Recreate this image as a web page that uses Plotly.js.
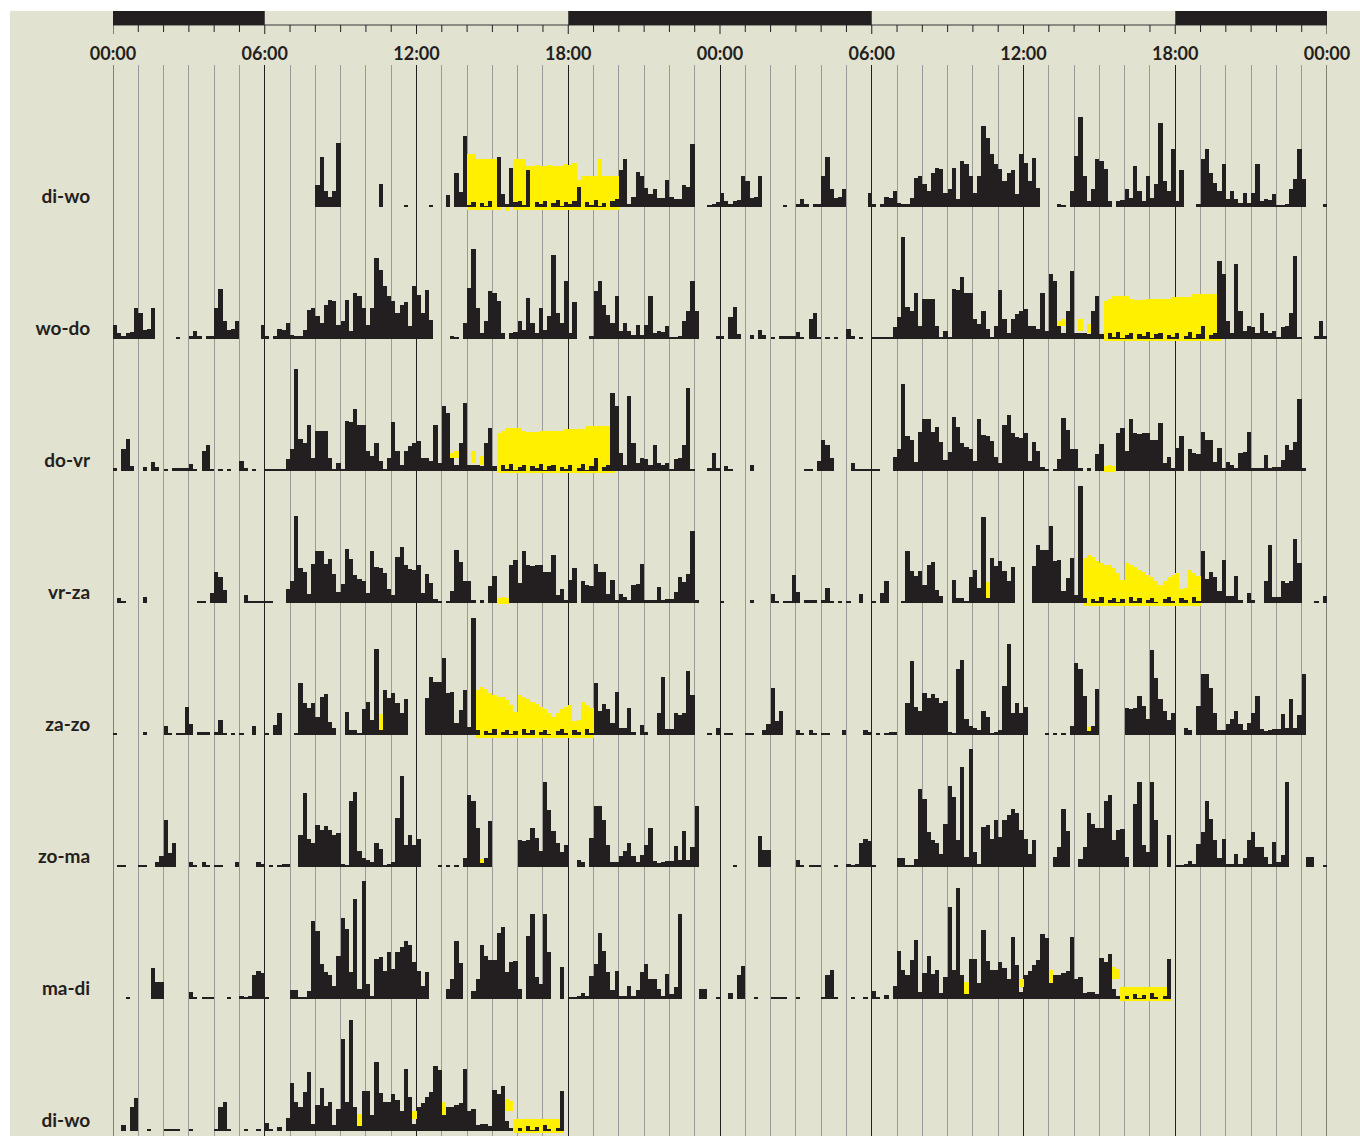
<!DOCTYPE html>
<html><head><meta charset="utf-8">
<script src="https://cdn.plot.ly/plotly-3.0.1.min.js"></script>
<style>html,body{margin:0;padding:0;background:#fff}#chart{width:1360px;height:1136px}</style>
</head><body><div id="chart"></div>
<script>
// ---- data ----
const rowLabels = ['di-wo','wo-do','do-vr','vr-za','za-zo','zo-ma','ma-di','di-wo'];
const hourTickVals = [0,6,12,18,24,30,36,42,48];
const hourTickText = ['00:00','06:00','12:00','18:00','00:00','06:00','12:00','18:00','00:00'];
const darkStart = [0,18,42];
const darkEnd = [6,30,48];

// activity per 10-minute bin (144 bins per day), one group per hour
const day1 = [
0,0,0,0,0,0, 0,0,0,0,0,0, 0,0,0,0,0,0, 0,0,0,0,0,0,
0,0,0,0,0,0, 0,0,0,0,0,0, 0,0,0,0,0,0, 0,0,0,0,0,0,
22,50,16,10,16,64, 0,0,0,0,0,0, 0,0,0,23,0,0, 0,0,0,2,0,0,
0,0,0,2,0,0, 0,12,0,34,15,71, 2,5,0,4,1,6, 0,50,13,3,39,5,
6,2,37,0,5,3, 6,0,4,7,1,5, 3,6,20,0,5,2, 7,1,4,0,6,8,
37,48,3,10,35,31, 19,13,18,9,9,27, 10,8,8,22,20,63, 0,0,0,2,3,5];
const day2 = [
14,6,3,6,7,31, 26,9,10,31,0,0, 0,0,0,2,0,0, 3,8,3,0,3,3,
31,50,18,9,10,18, 0,0,0,0,0,14, 3,0,3,10,9,16, 4,3,3,9,29,31,
23,16,34,39,38,14, 18,39,8,46,43,31, 14,31,81,69,53,43, 38,26,34,37,13,53,
44,26,49,19,0,0, 0,0,3,2,0,16, 51,90,31,6,18,48, 46,38,6,0,6,7,
18,9,41,16,6,31, 9,23,84,26,16,58, 6,37,0,0,0,3, 48,58,34,24,16,43,
8,16,8,4,14,4, 14,43,6,8,7,13, 2,2,3,18,28,58, 28,0,0,0,0,3];
const day3 = [
3,0,22,32,5,0, 0,4,0,9,4,0, 2,0,3,3,3,3, 7,2,0,20,26,2,
0,2,0,2,0,0, 10,3,0,2,0,0, 2,2,2,2,2,12, 22,102,32,28,46,13,
40,40,40,13,2,8, 2,50,49,62,46,46, 20,15,28,10,2,13, 49,20,6,20,25,28,
30,13,13,10,46,8, 65,58,13,6,28,68, 6,6,6,5,28,43, 5,0,6,2,7,1,
4,6,0,5,3,7, 1,5,6,0,4,2, 6,0,3,7,1,5, 13,0,4,6,78,65,
18,6,75,28,8,13, 12,6,26,8,6,8, 2,12,13,26,83,2, 0,0,0,3,18,3];
const day4 = [
0,5,2,0,0,0, 0,6,0,0,0,0, 0,0,0,0,0,0, 0,0,2,2,0,10,
31,26,13,0,0,0, 0,8,2,2,2,2, 2,2,0,0,0,14, 22,87,35,31,9,39,
52,52,39,44,29,11, 19,54,44,28,24,22, 10,52,36,35,30,14, 8,46,56,38,34,33,
38,10,29,20,4,2, 0,2,12,53,41,22, 22,3,0,3,0,17, 27,0,0,0,38,43,
20,52,38,37,38,38, 31,31,48,8,14,3, 23,35,0,22,18,17, 39,31,31,9,23,3,
9,6,3,18,19,39, 3,3,3,16,3,4, 4,11,26,21,29,72, 3,0,0,0,0,0];
const day5 = [
2,0,0,0,0,0, 0,3,0,0,0,0, 9,2,0,2,2,28, 11,0,3,3,3,0,
3,15,2,0,2,0, 2,0,0,9,0,0, 2,0,10,22,0,0, 0,2,52,32,27,32,
18,38,41,13,7,0, 0,23,5,5,2,26, 33,15,86,5,45,37, 42,32,22,36,0,0,
0,0,37,58,53,53, 77,42,43,12,25,45, 8,117,5,0,4,2, 6,0,3,5,1,4,
0,6,2,5,0,3, 5,1,0,4,6,2, 0,5,3,0,6,2, 52,24,31,26,12,43,
7,7,27,3,0,10, 3,0,0,22,58,6, 6,22,20,22,64,40, 0,0,0,2,0,7];
const day6 = [
0,2,2,0,0,0, 2,2,0,0,5,11, 47,14,24,0,0,0, 5,2,0,5,2,0,
2,2,0,0,0,5, 0,0,0,0,5,3, 0,2,0,2,3,3, 0,0,32,74,28,24,
42,37,41,37,32,34, 3,2,66,75,16,9, 7,5,24,18,2,3, 5,49,91,22,32,22,
28,0,0,0,0,2, 0,2,0,2,0,9, 72,66,39,4,9,46, 0,0,0,0,0,0,
27,26,27,39,29,16, 85,57,36,24,15,22, 0,0,7,5,0,29, 61,61,47,22,5,5,
11,16,24,11,5,12, 22,39,6,4,5,6, 6,21,7,36,7,20, 61,0,0,0,0,0];
const day7 = [
0,0,0,2,0,0, 0,0,0,31,17,17, 0,0,0,0,0,0, 7,2,0,2,2,2,
0,0,0,2,0,0, 3,2,3,24,28,26, 2,0,0,0,0,0, 9,9,2,2,8,78,
68,35,27,24,13,43, 81,70,27,100,10,118, 15,3,40,42,28,47, 30,47,52,58,54,37,
28,13,27,0,0,0, 0,10,20,58,36,0, 0,8,20,54,43,39, 39,66,72,27,37,38,
10,0,63,85,22,15, 85,47,0,0,32,0, 2,2,3,6,3,23, 35,66,48,27,9,28,
3,3,13,3,9,27, 35,20,20,10,3,25, 5,12,85,0,0,0, 0,10,10,0,0,2];
const day8 = [
0,0,6,0,24,33, 0,0,2,0,0,0, 2,2,2,2,0,0, 2,0,0,0,0,0,
2,24,29,2,0,0, 0,2,0,0,2,0, 8,2,0,4,0,13, 48,29,24,39,59,7,
26,43,25,29,6,22, 92,29,111,24,5,40, 40,16,69,38,29,29, 37,31,20,62,34,7,
24,28,34,39,65,61, 16,24,24,26,28,62, 20,22,6,7,7,5, 41,37,45,10,3,0,
3,0,5,1,4,0, 6,2,0,3,40,0, 0,0,0,0,0,0, 0,0,0,0,0,0,
0,0,0,0,0,0, 0,0,0,0,0,0, 0,0,0,0,0,0, 0,0,0,0,0,0];

// yellow episodes: [first bin, bottom offset, heights per bin]
const yellow1 = [[84,-3,[56,56,51,51,51,51,51,51]], [93,-4,[4]],
  [95,-3,[51,51,51,44,44,45,44,44,45,44,44,44,46,45,47,30,34,34,34,34,51,34,34,34,34]]];
const yellow2 = [];
const yellow3 = [[67,5,[5]], [69,3,[8]], [80,11,[7]], [81,13,[7]], [85,8,[12]], [87,6,[9]],
  [91,-2,[40,42,45,45,45,45,42,41,41,41,42,42,42,42,42,42,44,44,44,44,44,47,47,47,47,47,47,47]]];
const yellow4 = [[91,-1,[6,7,6]]];
const yellow5 = [[63,4,[17]],
  [86,-3,[48,51,49,45,43,41,41,38,33,26,43,41,39,36,34,31,29,25,21,25,29,31,33,17,18,36,33,30]]];
const yellow6 = [[87,0,[8]]];
const yellow7 = [];
const yellow8 = [[58,4,[13]], [71,12,[8]], [78,15,[14]], [93,20,[12,10]],
  [95,-2,[14,14,14,14,14,14,14,14,14,14,14,14]]];

// ---- build ----
const days = [day1,day2,day3,day4,day5,day6,day7,day8];
const yellows = [yellow1,yellow2,yellow3,yellow4,yellow5,yellow6,yellow7,yellow8];
const BIN = 1/6;
const TOP_BASE = 929, ROW_STEP = 132;
const rowBase = r => TOP_BASE - ROW_STEP*r;
const INK = '#231f20', YEL = '#fff000', BEIGE = '#e2e2d0', GRID = '#9a9a96';

const yTraces = [], bTraces = [];
for (let r = 0; r < rowLabels.length; r++) {
  const bx=[], by=[], bb=[], yx=[], yy=[], yb=[];
  for (let h = 0; h < 2; h++) {
    const d = r + h;
    if (d >= days.length) continue;
    days[d].forEach((v,k) => { bx.push(24*h + (k+0.5)*BIN); by.push(v); bb.push(rowBase(r)); });
    yellows[d].forEach(seg => {
      const [start, off, vals] = seg;
      vals.forEach((v,j) => { yx.push(24*h + (start+j+0.5)*BIN); yy.push(v); yb.push(rowBase(r)+off); });
    });
  }
  yTraces.push({type:'bar', x:yx, y:yy, base:yb, width:BIN, marker:{color:YEL, line:{width:0}}, hoverinfo:'skip', showlegend:false});
  bTraces.push({type:'bar', x:bx, y:by, base:bb, width:BIN, marker:{color:INK, line:{width:0}}, hoverinfo:'skip', showlegend:false});
}

const W = 1360, H = 1136, ML = 113, MR = 33, MT = 11, MB = 0;
const plotW = W-ML-MR, plotH = H-MT-MB;
const pyPaper = px => 1 - (px-MT)/plotH;   // pixel row -> paper fraction
const headerLineY = pyPaper(25);
const gridTop = pyPaper(65);

const shapes = [{type:'rect', xref:'paper', yref:'paper', x0:(10-ML)/plotW, x1:(W-ML)/plotW, y0:-0.01, y1:1,
  fillcolor:BEIGE, line:{width:0}, layer:'below'}];
// header: base line, hourly ticks, dark periods
shapes.push({type:'line', xref:'x', yref:'paper', x0:0, x1:48, y0:headerLineY, y1:headerLineY, line:{color:'#8c8c84', width:2}, layer:'above'});
for (let h = 0; h <= 48; h++) {
  shapes.push({type:'line', xref:'x', yref:'paper', x0:h, x1:h, y0:headerLineY, y1:pyPaper(h%6===0?34:32),
    line:{color:INK, width:1}, layer:'above'});
}
darkStart.forEach((s,i) => shapes.push({type:'rect', xref:'x', yref:'paper', x0:s, x1:darkEnd[i], y0:headerLineY, y1:1,
  fillcolor:INK, line:{width:0}, layer:'above'}));
// outer day-boundary lines
[0,48].forEach(h => shapes.push({type:'line', xref:'x', yref:'paper', x0:h, x1:h, y0:0, y1:gridTop,
  line:{color:INK, width:1}, layer:'below'}));

const fontLab = {family:'Lato, "Open Sans", sans-serif', size:18, color:INK, weight:700};

const layout = {
  width:W, height:H, margin:{l:ML, r:MR, t:MT, b:MB},
  paper_bgcolor:'#ffffff', plot_bgcolor:'rgba(0,0,0,0)',
  barmode:'overlay', bargap:0, showlegend:false,
  xaxis:{range:[0,48], side:'top', anchor:'y', tickmode:'array', tickvals:hourTickVals, ticktext:hourTickText,
    ticks:'', showgrid:true, gridcolor:INK, gridwidth:1, zeroline:false, showline:false,
    tickfont:fontLab, fixedrange:true,
    minor:{tickmode:'linear', tick0:0, dtick:1, showgrid:true, gridcolor:GRID, gridwidth:1, ticks:''}},
  yaxis:{range:[0,1071], domain:[0,gridTop], showgrid:false, zeroline:false, showline:false,
    tickmode:'array', tickvals:rowLabels.map((_,r)=>rowBase(r)+11), ticktext:rowLabels,
    ticks:'outside', ticklen:18, tickcolor:'rgba(0,0,0,0)', tickfont:Object.assign({}, fontLab, {size:19}), fixedrange:true},
  shapes:shapes
};
Plotly.newPlot('chart', [...yTraces, ...bTraces], layout, {staticPlot:true, displayModeBar:false});
</script></body></html>
